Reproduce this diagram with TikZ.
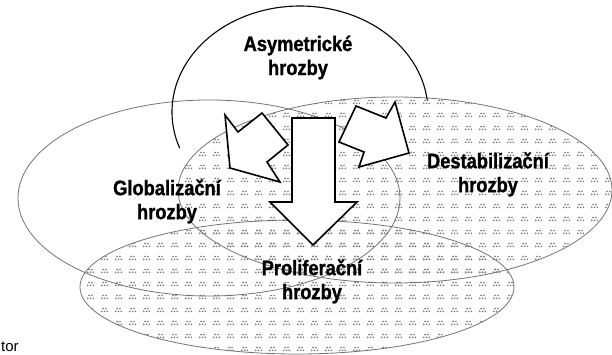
\documentclass[tikz,border=0pt]{standalone}
\usepackage{fontspec}
\setmainfont{Liberation Sans}
\newfontfamily\condfont[FakeStretch=0.87, FakeBold=1.2]{Liberation Sans Bold}
\usetikzlibrary{patterns.meta}

\tikzdeclarepattern{
  name=halftone,
  type=uncolored,
  bounding box={(0pt,0pt) and (14pt,13pt)},
  tile size={(14pt,13pt)},
  code={
    \fill (4pt,5pt) circle (1pt) (7pt,5pt) circle (1pt) (10pt,5pt) circle (1pt)
          (5.5pt,8pt) circle (1pt) (8.5pt,8pt) circle (1pt);
  }
}

\begin{document}
\begin{tikzpicture}[x=1pt, y=-1pt,
  zone/.style={draw=black!55, line width=0.8pt},
  haze/.style={pattern=halftone, pattern color=black!50},
  threat/.style={font=\condfont\fontsize{21}{24}\selectfont, align=center},
  block/.style={draw=black, line width=1.6pt, fill=white, line join=miter}
]
\useasboundingbox (0,0) rectangle (612,355);
\fill[haze] (395,190) ellipse [x radius=217, y radius=93];
\fill[haze] (297,287) ellipse [x radius=217, y radius=67];
\draw[zone] (209,198) ellipse [x radius=191, y radius=98];
\draw[zone] (395,190) ellipse [x radius=217, y radius=93];
\draw[zone] (297,287) ellipse [x radius=217, y radius=67];
\draw[line width=1.1pt] (300,112) ++(160:128 and 106)
  arc [start angle=160, end angle=353.5, x radius=128, y radius=106];
\draw[block] (262,113) -- (288,145) -- (267,162) -- (280,182) -- (230,168) -- (225,115) -- (238,132) -- cycle;
\draw[block] (292,118) -- (335,118) -- (335,202) -- (357,202) -- (313,245) -- (270,202) -- (292,202) -- cycle;
\draw[block] (356,106) -- (386,118) -- (395,102) -- (409,153) -- (359,167) -- (364,152) -- (339,142) -- cycle;
\node[threat] (asym) at (298,57.5) {Asymetrické\\hrozby};
\node[threat] (glob) at (167,201.5) {Globalizační\\hrozby};
\node[threat] (destab) at (488,174.5) {Destabilizační\\hrozby};
\node[threat] (prolif) at (312,281.5) {Proliferační\\hrozby};
\node[font=\fontsize{15}{17}\selectfont, anchor=base west, inner sep=0pt] (tor) at (1,351) {tor};
\end{tikzpicture}
\end{document}
